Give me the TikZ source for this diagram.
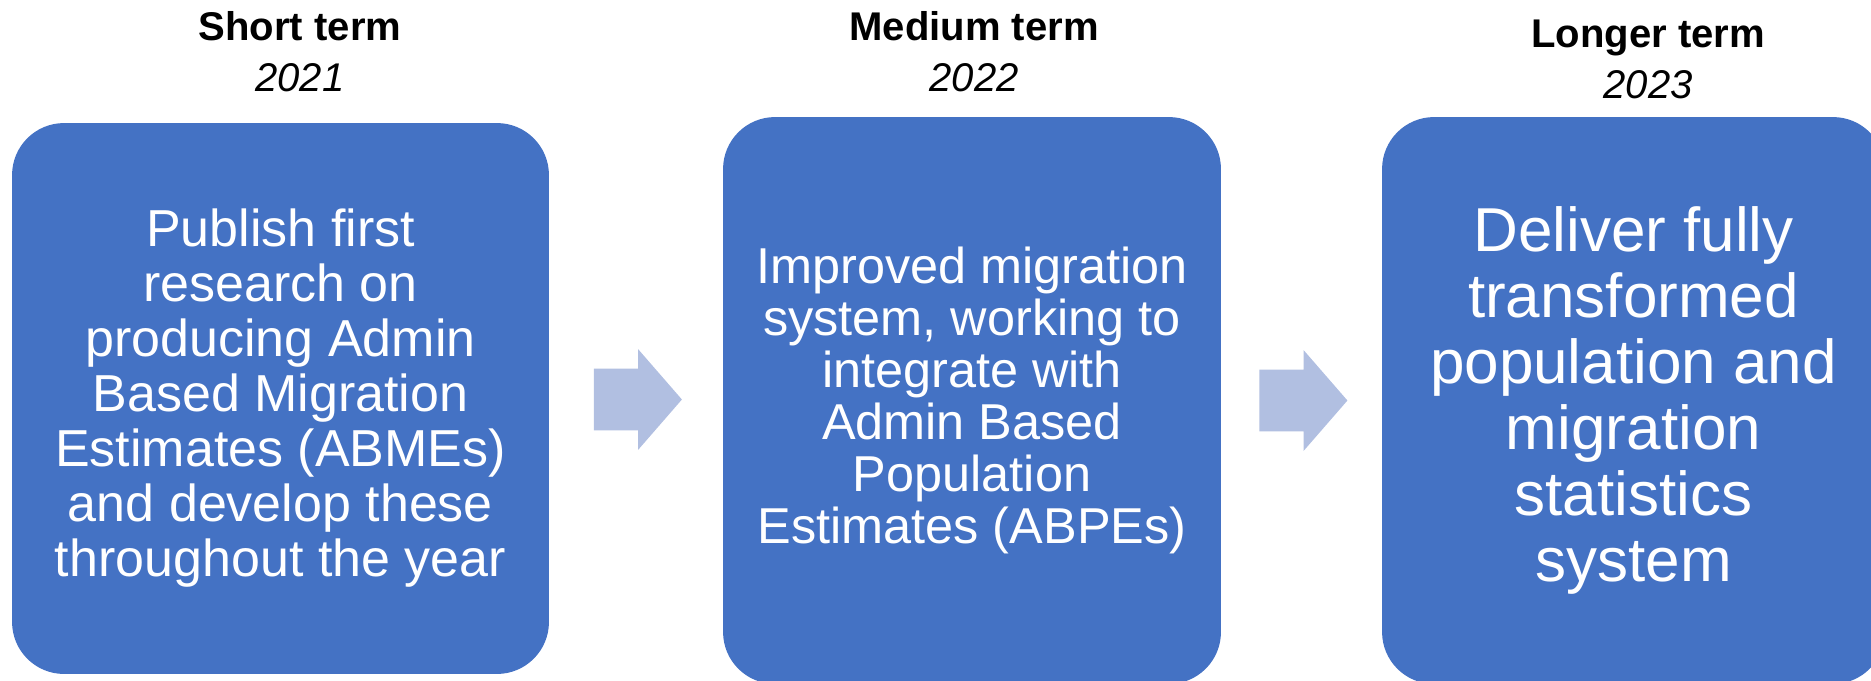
\documentclass[tikz,border=0pt]{standalone}
\usepackage{fontspec}
\setmainfont{Liberation Sans}
\usepackage{xcolor}
\usepackage{tikz}
\usetikzlibrary{shapes.arrows,calc}

\definecolor{boxblue}{HTML}{4472C4}
\definecolor{arrowblue}{HTML}{B1BFE1}

\tikzset{
  stagebox/.style={fill=boxblue, rounded corners=1.04cm, inner sep=0pt,
    align=center, text=white},
  stagehead/.style={inner sep=0pt, align=center,
    font=\fontsize{22.8}{29}\selectfont},
  blockarrow/.style={single arrow, fill=arrowblue, inner sep=0pt,
    text width=0pt, text height=1.22cm, text depth=0pt,
    minimum height=1.76cm, xshift=-0.23cm,
    single arrow head extend=0.39cm, single arrow tip angle=98},
}

\begin{document}
\begin{tikzpicture}[x=0.02cm, y=-0.02cm]
    \clip (0,0) rectangle (1871,680);

    % Stage boxes
    \node[stagebox, minimum width=10.74cm, minimum height=11.02cm,
          font=\fontsize{29.6}{31.3}\selectfont] (short) at (280.5,398.5)
        {Publish first\\research on\\producing Admin\\Based Migration\\Estimates (ABMEs)\\and develop these\\throughout the year};
    \node[stagebox, minimum width=9.96cm, minimum height=11.34cm,
          font=\fontsize{28.7}{29.6}\selectfont] (medium) at (972,400.5)
        {Improved migration\\system, working to\\integrate with\\Admin Based\\Population\\Estimates (ABPEs)};
    \node[stagebox, minimum width=10.06cm, minimum height=11.34cm,
          font=\fontsize{35.3}{37.6}\selectfont] (longer) at (1633.5,400.5)
        {Deliver fully\\transformed\\population and\\migration\\statistics\\system};

    % Headings
    \node[stagehead] (shorthead) at (300,52) {\textbf{Short term}\\\textit{2021}};
    \node[stagehead] (mediumhead) at (974,52) {\textbf{Medium term}\\\textit{2022}};
    \node[stagehead] (longerhead) at (1648,59) {\textbf{Longer term}\\\textit{2023}};

    % Block arrows between stages
    \node[blockarrow] (arrA) at ($(short.east)!0.5!(medium.west)$) {};
    \node[blockarrow] (arrB) at ($(medium.east)!0.5!(longer.west)$) {};
\end{tikzpicture}
\end{document}
